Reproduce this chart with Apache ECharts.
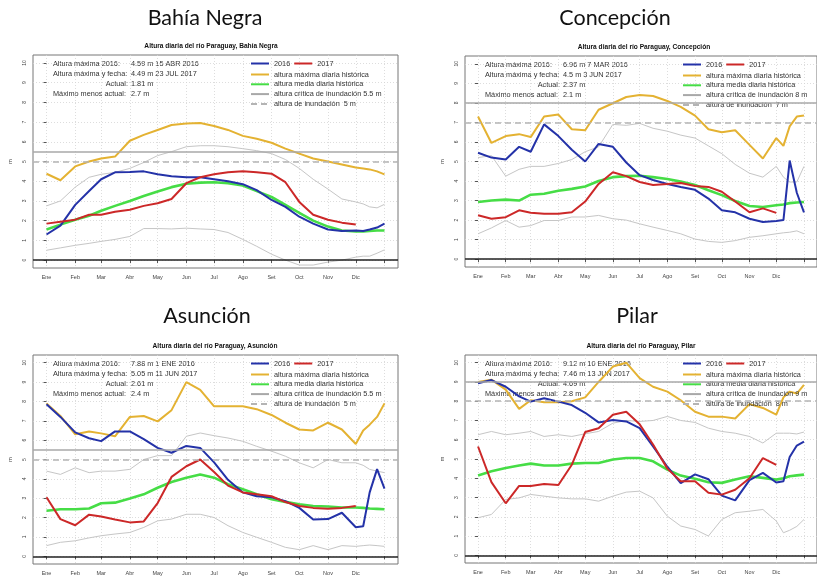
<!DOCTYPE html>
<html>
<head>
<meta charset="utf-8">
<script src="https://cdn.jsdelivr.net/npm/echarts@6/dist/echarts.min.js"></script>
<style>
  html, body { margin: 0; padding: 0; background: #fff; }
  #chart { width: 817px; height: 578px; }
</style>
</head>
<body>
<div id="chart"></div>
<script>
// Day of year for each sampled point (semi-monthly, a few extra in Dec)
const days = [0, 15, 31, 46, 59, 74, 90, 105, 120, 135, 151, 166, 181, 196, 212, 227, 243, 258, 273, 288, 304, 319, 334, 342, 349, 357, 365];
const monthStarts = [0, 31, 59, 90, 120, 151, 181, 212, 243, 273, 304, 334, 365];
const monthLabels = ['Ene', 'Feb', 'Mar', 'Abr', 'May', 'Jun', 'Jul', 'Ago', 'Set', 'Oct', 'Nov', 'Dic'];
const yTicks = [0, 1, 2, 3, 4, 5, 6, 7, 8, 9, 10];

// Bahía Negra
const bnMax = [4.38, 4.05, 4.75, 5.0, 5.15, 5.25, 6.05, 6.35, 6.6, 6.85, 6.93, 6.95, 6.8, 6.6, 6.3, 6.15, 5.95, 5.65, 5.4, 5.15, 5.0, 4.85, 4.7, 4.65, 4.6, 4.5, 4.35];
const bnHigh = [2.75, 3.0, 3.7, 4.2, 4.35, 4.45, 4.65, 4.95, 5.3, 5.5, 5.75, 5.8, 5.8, 5.75, 5.65, 5.55, 5.4, 5.1, 4.65, 4.1, 3.6, 3.1, 2.95, 2.85, 2.7, 2.65, 2.83];
const bnLow = [0.5, 0.62, 0.75, 0.85, 0.95, 1.05, 1.2, 1.6, 1.6, 1.58, 1.62, 1.58, 1.55, 1.4, 1.05, 0.7, 0.3, 0.0, -0.25, -0.25, -0.1, 0.0, 0.15, 0.2, 0.2, 0.35, 0.52];
const bnMean = [1.55, 1.8, 2.05, 2.25, 2.5, 2.75, 3.0, 3.25, 3.48, 3.7, 3.87, 3.93, 3.95, 3.9, 3.78, 3.5, 3.2, 2.8, 2.4, 2.0, 1.7, 1.5, 1.45, 1.45, 1.48, 1.5, 1.5];
const bn2016 = [1.3, 1.75, 2.8, 3.5, 4.1, 4.45, 4.47, 4.5, 4.35, 4.25, 4.2, 4.2, 4.1, 4.0, 3.85, 3.55, 3.05, 2.7, 2.2, 1.85, 1.55, 1.48, 1.5, 1.48, 1.55, 1.65, 1.85];
const bn2017 = [1.85, 1.95, 2.05, 2.3, 2.3, 2.45, 2.55, 2.75, 2.88, 3.1, 3.9, 4.2, 4.35, 4.45, 4.5, 4.45, 4.38, 3.95, 2.95, 2.3, 2.05, 1.9, 1.8];

// Concepción
const coMax = [7.3, 5.95, 6.3, 6.4, 6.25, 7.3, 7.4, 6.65, 6.6, 7.65, 7.98, 8.3, 8.4, 8.35, 8.1, 7.8, 7.35, 6.65, 6.5, 6.6, 5.85, 5.15, 6.2, 5.8, 6.8, 7.3, 7.35];
const coHigh = [5.2, 5.3, 4.25, 4.6, 4.75, 4.75, 4.9, 5.1, 5.5, 5.75, 6.9, 6.85, 6.95, 6.7, 6.55, 6.35, 6.2, 5.8, 5.4, 4.85, 4.4, 4.2, 4.75, 4.2, 3.95, 3.95, 4.75];
const coLow = [1.3, 1.6, 1.98, 1.64, 1.72, 1.98, 1.98, 2.16, 2.16, 2.24, 2.07, 2.0, 1.81, 1.64, 1.47, 1.3, 1.03, 0.91, 0.86, 0.95, 1.12, 1.2, 1.3, 1.35, 1.38, 1.45, 1.3];
const coMean = [2.93, 3.0, 3.05, 3.0, 3.3, 3.35, 3.5, 3.6, 3.72, 4.0, 4.2, 4.25, 4.27, 4.2, 4.1, 3.97, 3.8, 3.53, 3.28, 2.98, 2.72, 2.67, 2.76, 2.8, 2.87, 2.9, 2.93];
const co2016 = [5.45, 5.2, 5.1, 5.75, 5.5, 6.9, 6.3, 5.6, 5.0, 5.9, 5.75, 4.95, 4.3, 4.05, 3.85, 3.7, 3.55, 3.1, 2.5, 2.4, 2.07, 1.9, 1.95, 2.0, 5.05, 3.4, 2.4];
const co2017 = [2.25, 2.07, 2.15, 2.5, 2.38, 2.33, 2.33, 2.4, 2.95, 3.85, 4.45, 4.25, 3.95, 3.8, 3.85, 3.9, 3.75, 3.7, 3.45, 2.95, 2.4, 2.6, 2.37];

// Asunción
const asMax = [7.9, 7.25, 6.3, 6.45, 6.35, 6.2, 7.2, 7.25, 6.97, 7.55, 9.0, 8.6, 7.75, 7.75, 7.75, 7.6, 7.3, 6.9, 6.55, 6.5, 6.9, 6.55, 5.8, 6.5, 6.8, 7.2, 7.9];
const asHigh = [4.4, 4.23, 4.57, 4.32, 4.4, 4.4, 4.49, 5.0, 5.2, 5.2, 6.2, 6.37, 6.23, 6.11, 5.94, 5.68, 5.43, 5.17, 4.83, 4.57, 5.0, 4.83, 4.83, 4.7, 4.49, 4.4, 4.32];
const asLow = [0.55, 0.72, 0.8, 0.95, 1.06, 1.15, 1.23, 1.49, 1.83, 1.92, 2.17, 2.17, 2.0, 1.58, 1.23, 0.98, 0.72, 0.46, 0.34, 0.55, 0.34, 0.55, 0.51, 0.55, 0.58, 0.55, 0.51];
const asMean = [2.35, 2.43, 2.43, 2.47, 2.74, 2.77, 2.98, 3.2, 3.54, 3.84, 4.06, 4.23, 4.06, 3.72, 3.46, 3.2, 2.95, 2.81, 2.69, 2.6, 2.57, 2.52, 2.52, 2.5, 2.47, 2.45, 2.43];
const as2016 = [7.85, 7.2, 6.4, 6.1, 5.95, 6.45, 6.45, 6.05, 5.6, 5.35, 5.7, 5.6, 4.85, 3.95, 3.3, 3.1, 3.05, 2.85, 2.5, 1.9, 1.92, 2.25, 1.5, 1.55, 3.3, 4.5, 3.5];
const as2017 = [3.05, 1.92, 1.6, 2.15, 2.05, 1.9, 1.75, 1.8, 2.75, 4.1, 4.65, 5.0, 4.35, 3.65, 3.3, 3.2, 3.1, 2.8, 2.6, 2.5, 2.45, 2.5, 2.6];

// Pilar
const piMax = [9.0, 9.12, 8.6, 7.6, 8.05, 7.95, 7.95, 8.0, 8.2, 9.0, 9.8, 10.0, 9.2, 8.75, 8.5, 8.05, 7.45, 7.2, 7.2, 7.1, 7.85, 7.65, 7.3, 8.2, 8.5, 8.4, 8.85];
const piHigh = [6.26, 6.43, 6.26, 6.34, 6.43, 6.17, 6.26, 6.17, 6.31, 6.43, 6.86, 7.0, 6.95, 7.0, 7.21, 7.0, 6.9, 6.6, 6.43, 6.34, 6.17, 5.83, 6.34, 6.34, 6.34, 6.3, 6.4];
const piLow = [1.95, 2.12, 2.9, 2.98, 3.16, 3.07, 2.98, 2.93, 2.93, 2.81, 3.07, 3.28, 3.33, 2.98, 2.03, 1.52, 1.34, 1.0, 1.86, 2.21, 2.29, 2.38, 1.78, 1.17, 1.3, 1.5, 1.86];
const piMean = [4.14, 4.36, 4.53, 4.66, 4.76, 4.66, 4.66, 4.76, 4.79, 4.79, 4.97, 5.05, 5.05, 4.88, 4.45, 4.14, 3.97, 3.79, 3.76, 3.93, 4.1, 4.02, 3.93, 4.0, 4.1, 4.15, 4.19];
const pi2016 = [8.93, 9.1, 8.75, 8.25, 7.98, 8.15, 7.98, 7.8, 7.4, 6.9, 7.03, 6.95, 6.6, 5.65, 4.6, 3.75, 4.2, 3.95, 3.1, 2.85, 3.9, 4.28, 3.78, 3.85, 5.1, 5.7, 5.9];
const pi2017 = [5.65, 3.8, 2.7, 3.6, 3.6, 3.7, 3.65, 4.7, 6.4, 6.6, 7.3, 7.45, 6.8, 5.75, 4.5, 3.85, 3.85, 3.25, 3.15, 3.4, 4.0, 5.05, 4.7];

const stations = ['Bahía Negra', 'Concepción', 'Asunción', 'Pilar'];
const criticalLevel = [5.5, 8, 5.5, 9];
const floodLevel = [5, 7, 5, 8];
const max2016Text = ['4.59 m 15 ABR 2016', '6.96 m 7 MAR 2016', '7.88 m 1 ENE 2016', '9.12 m 10 ENE 2016'];
const max2017Text = ['4.49 m 23 JUL 2017', '4.5 m 3 JUN 2017', '5.05 m 11 JUN 2017', '7.46 m 13 JUN 2017'];
const actualText = ['1.81 m', '2.37 m', '2.61 m', '4.69 m'];
const diffText = ['2.7 m', '2.1 m', '2.4 m', '2.8 m'];

const panelData = [
  [bnMax, bnHigh, bnLow, bnMean, bn2016, bn2017],
  [coMax, coHigh, coLow, coMean, co2016, co2017],
  [asMax, asHigh, asLow, asMean, as2016, as2017],
  [piMax, piHigh, piLow, piMean, pi2016, pi2017]
];

// layout of the four plot boxes
const boxes = [
  { left: 33, top: 55, height: 213, nameX: 205, nameY: 7, subX: 211 },
  { left: 465, top: 56, height: 211, nameX: 615, nameY: 7, subX: 644 },
  { left: 33, top: 355, height: 209, nameX: 207, nameY: 305, subX: 215 },
  { left: 465, top: 355, height: 208, nameX: 637, nameY: 305, subX: 641 }
];

const smallFont = 'Liberation Sans, Arial, sans-serif';
const textSize = 7.3;
const pairs = vals => vals.map((v, i) => [days[i], v]);

const grids = [], xAxes = [], yAxes = [], series = [], titles = [], legends = [], graphics = [];

boxes.forEach((b, p) => {
  const [maxV, highV, lowV, meanV, v2016, v2017] = panelData[p];
  grids.push({ left: b.left, top: b.top, width: 365, height: b.height, show: true, borderColor: '#777', borderWidth: 1 });
  xAxes.push({
    type: 'value', gridIndex: p, min: -14.6, max: 379.6,
    axisLine: { show: false },
    axisTick: { show: true, length: 3, customValues: monthStarts, lineStyle: { color: '#555' } },
    axisLabel: {
      customValues: monthStarts.slice(0, 12), fontSize: 5.5, color: '#444', margin: 6, fontFamily: smallFont,
      formatter: v => monthLabels[monthStarts.indexOf(v)]
    },
    splitLine: { show: true, lineStyle: { color: '#d4d4d4', type: [1, 2], width: 0.8 } }
  });
  yAxes.push({
    type: 'value', gridIndex: p, min: -0.4, max: 10.4,
    name: 'm', nameLocation: 'middle', nameGap: 20, nameRotate: 90,
    nameTextStyle: { fontSize: 5.5, color: '#444', fontFamily: smallFont },
    axisLine: { show: false },
    axisTick: { show: true, length: 3, customValues: yTicks, lineStyle: { color: '#555' } },
    axisLabel: { customValues: yTicks, rotate: 90, fontSize: 5, color: '#444', margin: 6, fontFamily: smallFont },
    splitLine: { show: true, lineStyle: { color: '#d4d4d4', type: [1, 2], width: 0.8 } }
  });

  const base = { type: 'line', xAxisIndex: p, yAxisIndex: p, symbol: 'none', silent: true, animation: false };
  series.push(
    Object.assign({}, base, { data: pairs(highV), lineStyle: { color: '#c6c6c6', width: 1 } }),
    Object.assign({}, base, { data: pairs(lowV), lineStyle: { color: '#c6c6c6', width: 1 } }),
    Object.assign({}, base, {
      name: 'altura crítica de inundación ' + criticalLevel[p] + ' m', data: [],
      itemStyle: { color: '#a8a8a8' }, lineStyle: { color: '#a8a8a8', width: 1.5 },
      markLine: {
        silent: true, symbol: 'none', label: { show: false }, animation: false,
        data: [
          { yAxis: criticalLevel[p], lineStyle: { color: '#a8a8a8', width: 1.5, type: 'solid' } },
          { yAxis: 0, lineStyle: { color: '#222', width: 1.5, type: 'solid' } }
        ]
      }
    }),
    Object.assign({}, base, {
      name: 'altura de inundación  ' + floodLevel[p] + ' m', data: [],
      itemStyle: { color: '#b4b4b4' }, lineStyle: { color: '#b4b4b4', width: 1.5, type: [6, 4] },
      markLine: {
        silent: true, symbol: 'none', label: { show: false }, animation: false,
        data: [{ yAxis: floodLevel[p], lineStyle: { color: '#b4b4b4', width: 1.5, type: [6, 4] } }]
      }
    }),
    Object.assign({}, base, { name: 'altura máxima diaria histórica', data: pairs(maxV), itemStyle: { color: '#e4b232' }, lineStyle: { color: '#e4b232', width: 2 } }),
    Object.assign({}, base, { name: 'altura media diaria histórica', data: pairs(meanV), itemStyle: { color: '#46dd46' }, lineStyle: { color: '#46dd46', width: 2.6 } }),
    Object.assign({}, base, { name: '2016', data: pairs(v2016), itemStyle: { color: '#2432a8' }, lineStyle: { color: '#2432a8', width: 2 } }),
    Object.assign({}, base, { name: '2017', data: pairs(v2017), itemStyle: { color: '#cc2828' }, lineStyle: { color: '#cc2828', width: 2 } })
  );

  titles.push(
    { text: stations[p], left: b.nameX, top: b.nameY, textAlign: 'center', padding: 0,
      textStyle: { fontSize: 21.5, fontWeight: 'normal', color: '#111', fontFamily: 'Lato, Open Sans, sans-serif' } },
    { text: 'Altura diaria del río Paraguay, ' + stations[p], left: b.subX, top: b.top - 12, textAlign: 'center', padding: 0,
      textStyle: { fontSize: 6.6, fontWeight: 'bold', color: '#111', fontFamily: smallFont } }
  );

  const legendText = { fontSize: textSize, color: '#333', fontFamily: smallFont };
  const legendBase = {
    padding: 0, itemWidth: 18, itemHeight: 6, textStyle: legendText, selectedMode: false,
    itemStyle: { opacity: 0 }
  };
  legends.push(
    Object.assign({}, legendBase, { data: ['2016', '2017'], orient: 'horizontal', left: b.left + 217, top: b.top + 5, itemGap: 3 }),
    Object.assign({}, legendBase, {
      data: ['altura máxima diaria histórica', 'altura media diaria histórica',
             'altura crítica de inundación ' + criticalLevel[p] + ' m', 'altura de inundación  ' + floodLevel[p] + ' m'],
      orient: 'vertical', left: b.left + 217, top: b.top + 16, itemGap: 2.8
    })
  );

  // text block in the top-left corner of each plot
  const rows = [
    ['Altura máxima 2016:', max2016Text[p], 'left'],
    ['Altura máxima y fecha:', max2017Text[p], 'left'],
    ['Actual:', actualText[p], 'right'],
    ['Máximo menos actual:', diffText[p], 'left']
  ];
  rows.forEach((r, k) => {
    const y = b.top + 9 + k * 10;
    graphics.push({
      type: 'text', x: r[2] === 'left' ? b.left + 20 : b.left + 95, y: y,
      style: { text: r[0], align: r[2], verticalAlign: 'middle', fontSize: textSize, fill: '#333', fontFamily: smallFont }
    });
    graphics.push({
      type: 'text', x: b.left + 98, y: y,
      style: { text: r[1], align: 'left', verticalAlign: 'middle', fontSize: textSize, fill: '#333', fontFamily: smallFont }
    });
  });
});

const chart = echarts.init(document.getElementById('chart'));
chart.setOption({
  animation: false,
  backgroundColor: '#fff',
  title: titles,
  legend: legends,
  grid: grids,
  xAxis: xAxes,
  yAxis: yAxes,
  series: series,
  graphic: graphics
});
</script>
</body>
</html>
